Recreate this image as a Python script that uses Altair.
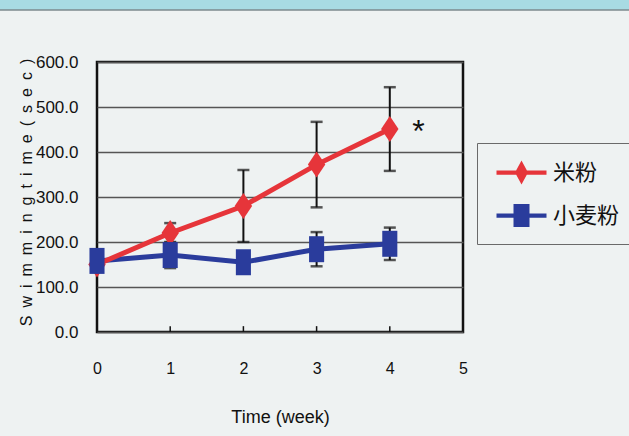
import altair as alt
import pandas as pd

# Swimming endurance over five weeks, two diet groups (mean ± error)
weeks = [0, 1, 2, 3, 4]
series_names = ["米粉", "小麦粉"]
rice_mean = [150, 220, 280, 372, 451]
rice_err = [10, 22, 80, 95, 93]
wheat_mean = [158, 171, 155, 184, 196]
wheat_err = [10, 29, 15, 38, 36]

# significance mark beside the last rice-flour point
star_week = [4.39]
star_value = [460]

# small inward tick marks along the bottom edge
inner_ticks = [1, 2, 3, 4]

y_ticks = [0, 100, 200, 300, 400, 500, 600]
x_ticks = [0, 1, 2, 3, 4, 5]

colors = ["#e6353a", "#2a3c9c"]
# tall marker outlines (path units scaled by sqrt(size)/2)
plot_shapes = ["M0,-1L0.67,0L0,1L-0.67,0Z", "M-0.58,-1H0.58V1H-0.58Z"]
legend_shapes = [
    "M-2,-0.17H2V0.17H-2ZM0,-0.96L0.52,0L0,0.96L-0.52,0Z",
    "M-2,-0.17H2V0.17H-2ZM-0.64,-0.92H0.64V0.92H-0.64Z",
]

rows = []
for name, means, errs in [("米粉", rice_mean, rice_err), ("小麦粉", wheat_mean, wheat_err)]:
    for w, m, e in zip(weeks, means, errs):
        rows.append({"week": w, "group": name, "mean": m, "lo": m - e, "hi": m + e})
df = pd.DataFrame(rows)

BG = "#eef2f2"
SANS = "Liberation Sans"

x_scale = alt.Scale(domain=[0, 5], nice=False, zero=False)
y_scale = alt.Scale(domain=[0, 600], nice=False)

x_enc = alt.X(
    "week:Q",
    scale=x_scale,
    axis=alt.Axis(
        values=x_ticks, format="d", title="Time (week)", grid=False, ticks=False,
        tickSize=0, domain=False, labelPadding=28, labelFlush=False,
        titleX=183, titleY=85, titleBaseline="middle", titleAlign="center",
        labelFont=SANS, labelFontSize=16, titleFont=SANS, titleFontSize=18,
        titleFontWeight="normal", labelColor="#111", titleColor="#111",
    ),
)
# letter-spaced axis title
y_title = "\u2002".join("Swimming time (sec)".replace(" ", ""))
y_enc = alt.Y(
    "mean:Q",
    scale=y_scale,
    axis=alt.Axis(
        values=y_ticks, format=".1f", title=y_title, grid=True, ticks=False,
        tickSize=0, domain=False, labelPadding=19, labelFlush=False,
        titleX=-71, titleY=130, titleBaseline="middle", titleAlign="center", titleAngle=270,
        gridColor="#555555", gridWidth=1.4,
        labelFont=SANS, labelFontSize=17, titleFont=SANS, titleFontSize=16,
        titleFontWeight="normal", labelColor="#111", titleColor="#111",
    ),
)

base = alt.Chart(df)

# decorative header band across the top of the page
band = alt.Chart(pd.DataFrame({"k": [0]})).mark_rect(color="#a8dbe3", clip=False).encode(
    x=alt.value(-97), x2=alt.value(532), y=alt.value(-62), y2=alt.value(-52)
)
band_line = alt.Chart(pd.DataFrame({"k": [0]})).mark_rule(color="#7d8a8e", strokeWidth=1.5, clip=False).encode(
    x=alt.value(-97), x2=alt.value(532), y=alt.value(-52)
)

grid_axis = base.mark_point(opacity=0).encode(x=x_enc, y=y_enc)

ticks = alt.Chart(pd.DataFrame({"t": inner_ticks, "y0": 0, "y1": 13})).mark_rule(
    color="#111", strokeWidth=1.5
).encode(x=alt.X("t:Q", scale=x_scale), y=alt.Y("y0:Q", scale=y_scale), y2="y1:Q")

err_rule = base.mark_rule(color="#111", strokeWidth=2).encode(
    x=alt.X("week:Q", scale=x_scale), y=alt.Y("lo:Q", scale=y_scale), y2="hi:Q"
)
cap_lo = base.mark_tick(orient="horizontal", size=12, thickness=2.5, color="#111").encode(
    x=alt.X("week:Q", scale=x_scale), y=alt.Y("lo:Q", scale=y_scale)
)
cap_hi = base.mark_tick(orient="horizontal", size=12, thickness=2.5, color="#111").encode(
    x=alt.X("week:Q", scale=x_scale), y=alt.Y("hi:Q", scale=y_scale)
)


def series_layers(name, shape, color):
    sub = base.transform_filter(alt.datum.group == name)
    line = sub.mark_line(strokeWidth=5, color=color).encode(
        x=alt.X("week:Q", scale=x_scale),
        y=alt.Y("mean:Q", scale=y_scale),
    )
    pts = sub.mark_point(filled=True, opacity=1, size=676, shape=shape, strokeWidth=0, color=color).encode(
        x=alt.X("week:Q", scale=x_scale),
        y=alt.Y("mean:Q", scale=y_scale),
    )
    return line, pts


rice_line, rice_pts = series_layers("米粉", plot_shapes[0], colors[0])
wheat_line, wheat_pts = series_layers("小麦粉", plot_shapes[1], colors[1])

legend_def = alt.Legend(
    title=None, orient="none", legendX=380, legendY=81,
    strokeColor="#6a6a6a", fillColor=BG, padding=17,
    labelFont="Noto Sans CJK JP", labelFontSize=22, labelColor="#111",
    labelOffset=19, symbolOffset=15, symbolOpacity=1, symbolStrokeWidth=0,
    rowPadding=18, symbolSize=625,
)

# invisible layer that carries the legend
legend_layer = base.mark_point(filled=True, opacity=0, size=625, strokeWidth=0).encode(
    x=alt.X("week:Q", scale=x_scale),
    y=alt.Y("mean:Q", scale=y_scale),
    color=alt.Color(
        "group:N", scale=alt.Scale(domain=series_names, range=colors),
        sort=series_names, legend=legend_def,
    ),
    shape=alt.Shape(
        "group:N", scale=alt.Scale(domain=series_names, range=legend_shapes),
        sort=series_names, legend=legend_def,
    ),
)

star = alt.Chart(pd.DataFrame({"w": star_week, "v": star_value})).mark_text(
    text="*", font=SANS, fontSize=32, baseline="alphabetic", dy=17, color="#111"
).encode(x=alt.X("w:Q", scale=x_scale), y=alt.Y("v:Q", scale=y_scale))

chart = alt.layer(
    band, band_line, grid_axis, ticks, wheat_line, rice_line,
    err_rule, cap_lo, cap_hi, rice_pts, wheat_pts, legend_layer, star,
).properties(
    width=366, height=270,
    background=BG,
    padding={"left": 97, "top": 62, "right": 166, "bottom": 104},
    autosize=alt.AutoSizeParams(type="none"),
).configure_view(
    stroke="#111", strokeWidth=2.5, fill=BG
)

chart.save("out.html", embed_options={"renderer": "svg", "actions": False})
